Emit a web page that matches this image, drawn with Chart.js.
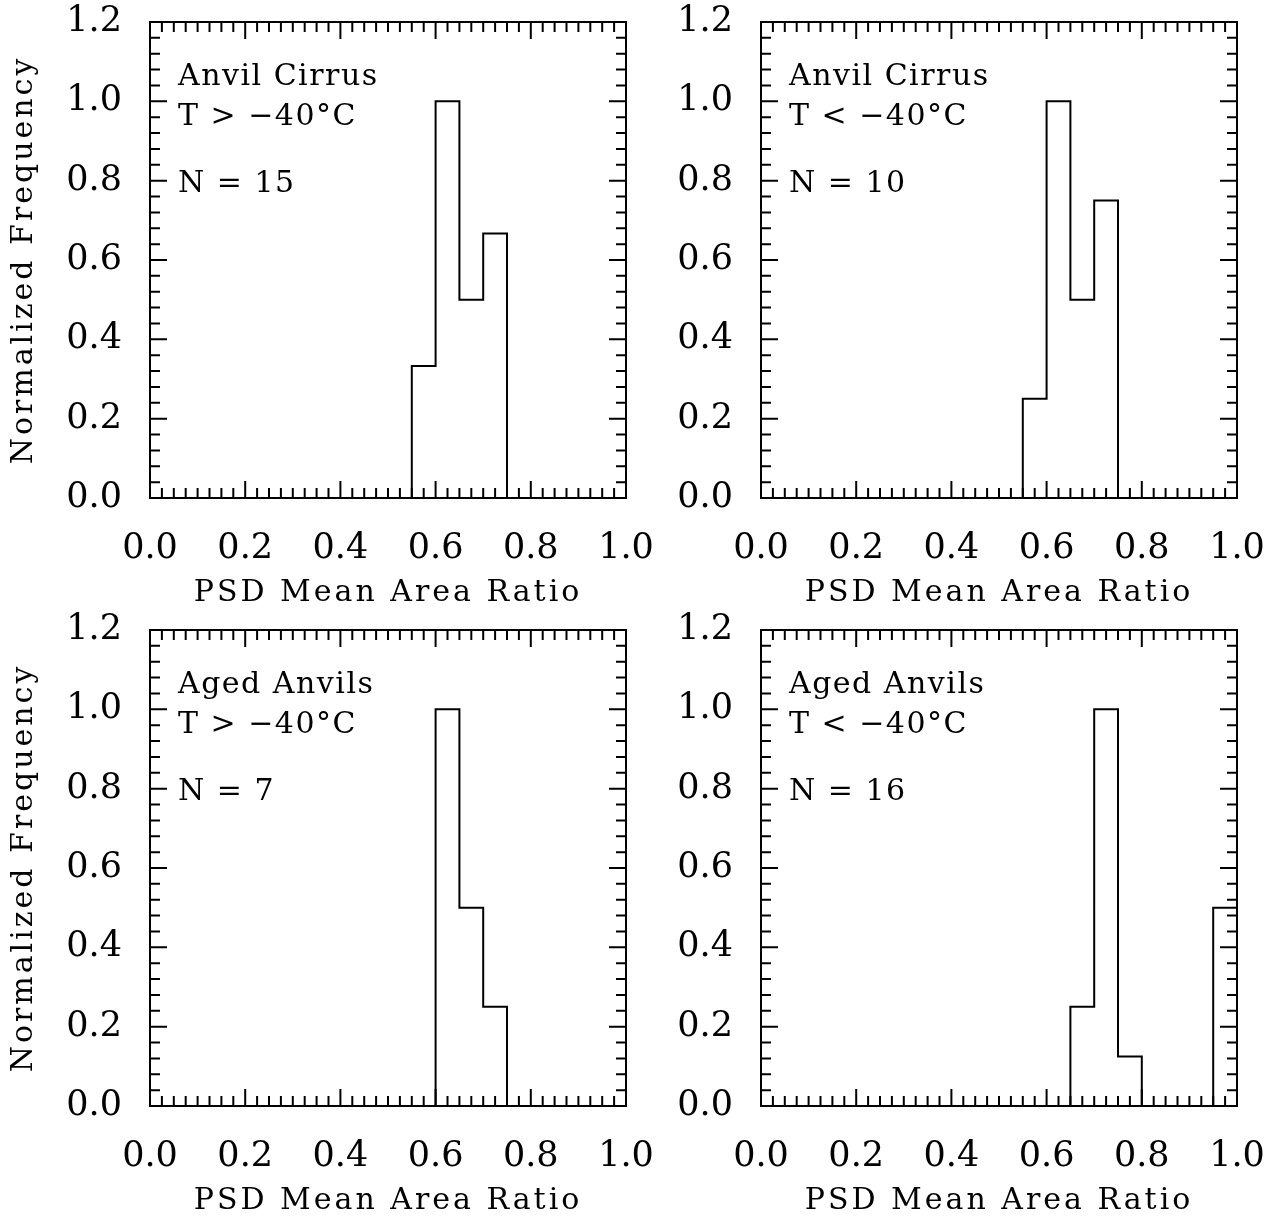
<!DOCTYPE html>
<html>
<head>
<meta charset="utf-8">
<script src="https://cdn.jsdelivr.net/npm/chart.js@4.4.0/dist/chart.umd.min.js"></script>
<style>
html,body{margin:0;padding:0;background:#fff;overflow:hidden;width:1272px;height:1220px;}
canvas{position:absolute;}
</style>
</head>
<body>
<canvas id="c0" width="661" height="615" style="left:0px;top:0px"></canvas>
<canvas id="c1" width="661" height="615" style="left:611px;top:0px"></canvas>
<canvas id="c2" width="661" height="615" style="left:0px;top:608px"></canvas>
<canvas id="c3" width="661" height="615" style="left:611px;top:608px"></canvas>
<script>
// ---- data ----
const binWidth = 0.05;
const anvilWarmBins = [0.55, 0.60, 0.65, 0.70];
const anvilWarmFreq = [0.333, 1.0, 0.5, 0.667];
const anvilColdBins = [0.55, 0.60, 0.65, 0.70];
const anvilColdFreq = [0.25, 1.0, 0.5, 0.75];
const agedWarmBins = [0.60, 0.65, 0.70];
const agedWarmFreq = [1.0, 0.5, 0.25];
const agedColdBins = [0.65, 0.70, 0.75, 0.80, 0.85, 0.90, 0.95];
const agedColdFreq = [0.25, 1.0, 0.125, 0, 0, 0, 0.5];

const panelTitles = ['Anvil Cirrus', 'Anvil Cirrus', 'Aged Anvils', 'Aged Anvils'];
const panelTemps = ['T > \u221240\u00B0C', 'T < \u221240\u00B0C', 'T > \u221240\u00B0C', 'T < \u221240\u00B0C'];
const panelN = [15, 10, 7, 16];
const xAxisTitle = 'PSD Mean Area Ratio';
const yAxisTitle = 'Normalized Frequency';

const xMin = 0, xMax = 1.0, xMajor = 0.2, xMinor = 0.025;
const yMin = 0, yMax = 1.2, yMajor = 0.2, yMinor = 0.04;

const FONT = "'DejaVu Serif', serif";

function outline(bins, freq) {
  const pts = [{x: bins[0], y: 0}];
  for (let i = 0; i < bins.length; i++) pts.push({x: bins[i], y: freq[i]});
  pts.push({x: bins[bins.length - 1] + binWidth, y: 0});
  return pts;
}

const spacingPlugin = {
  id: 'spacing',
  beforeDraw(chart) { chart.ctx.letterSpacing = '3px'; },
  beforeDatasetsDraw(chart) { chart.ctx.letterSpacing = '0px'; }
};

const framePlugin = {
  id: 'frame',
  afterDraw(chart) {
    const ctx = chart.ctx, ca = chart.chartArea;
    const xs = chart.scales.x, ys = chart.scales.y;
    const idx = chart.options.plugins.frame.panel;
    ctx.save();
    ctx.letterSpacing = '0px';
    ctx.strokeStyle = '#000';
    ctx.lineWidth = 2;
    ctx.beginPath();
    const nx = Math.round((xMax - xMin) / xMinor);
    const perX = Math.round(xMajor / xMinor);
    for (let k = 0; k <= nx; k++) {
      const px = xs.getPixelForValue(xMin + k * xMinor);
      const len = (k % perX === 0) ? 17 : 10;
      ctx.moveTo(px, ca.bottom); ctx.lineTo(px, ca.bottom - len);
      ctx.moveTo(px, ca.top); ctx.lineTo(px, ca.top + len);
    }
    const ny = Math.round((yMax - yMin) / yMinor);
    const perY = Math.round(yMajor / yMinor);
    for (let k = 0; k <= ny; k++) {
      const py = ys.getPixelForValue(yMin + k * yMinor);
      const len = (k % perY === 0) ? 17 : 10;
      ctx.moveTo(ca.left, py); ctx.lineTo(ca.left + len, py);
      ctx.moveTo(ca.right, py); ctx.lineTo(ca.right - len, py);
    }
    ctx.stroke();
    ctx.strokeRect(ca.left, ca.top, ca.right - ca.left, ca.bottom - ca.top);
    // annotation
    ctx.fillStyle = '#000';
    ctx.font = '30px ' + FONT;
    ctx.letterSpacing = '1.5px';
    ctx.textAlign = 'left';
    ctx.textBaseline = 'alphabetic';
    ctx.fillText(panelTitles[idx], ca.left + 28, ca.top + 63);
    ctx.fillText(panelTemps[idx], ca.left + 28, ca.top + 103);
    ctx.fillText('N = ' + panelN[idx], ca.left + 28, ca.top + 170);
    ctx.restore();
  }
};

function makeChart(id, idx, bins, freq, showYTitle) {
  return new Chart(document.getElementById(id), {
    type: 'line',
    data: {
      datasets: [{
        data: outline(bins, freq),
        stepped: 'before',
        borderColor: '#000',
        borderWidth: 2,
        pointRadius: 0,
        fill: false,
        tension: 0,
        clip: false
      }]
    },
    options: {
      responsive: false,
      animation: false,
      devicePixelRatio: 1,
      layout: {padding: {left: 0, right: 35, top: 22, bottom: 0}},
      plugins: {legend: {display: false}, tooltip: {enabled: false}, frame: {panel: idx}},
      scales: {
        x: {
          type: 'linear', position: 'bottom', min: xMin, max: xMax,
          grid: {display: false, drawTicks: true, tickLength: 30},
          border: {display: false},
          ticks: {stepSize: xMajor, padding: 0, color: '#000', font: {family: FONT, size: 35},
                  maxRotation: 0, autoSkip: false, z: 1,
                  callback: v => Number(v).toFixed(1)},
          title: {display: true, text: xAxisTitle, color: '#000', font: {family: FONT, size: 30},
                  padding: {top: 0, bottom: 4}},
          afterFit(s) { s.height = 117; }
        },
        y: {
          type: 'linear', position: 'left', min: yMin, max: yMax,
          grid: {display: false, drawTicks: true, tickLength: 28},
          border: {display: false},
          ticks: {stepSize: yMajor, padding: 0, color: '#000', font: {family: FONT, size: 35},
                  autoSkip: false, z: 1,
                  callback: v => Number(v).toFixed(1)},
          title: {display: showYTitle, text: yAxisTitle, color: '#000', font: {family: FONT, size: 30},
                  padding: {top: 6, bottom: 0}},
          afterFit(s) { s.width = 150; }
        }
      }
    },
    plugins: [spacingPlugin, framePlugin]
  });
}

makeChart('c0', 0, anvilWarmBins, anvilWarmFreq, true);
makeChart('c1', 1, anvilColdBins, anvilColdFreq, false);
makeChart('c2', 2, agedWarmBins, agedWarmFreq, true);
makeChart('c3', 3, agedColdBins, agedColdFreq, false);
</script>
</body>
</html>
